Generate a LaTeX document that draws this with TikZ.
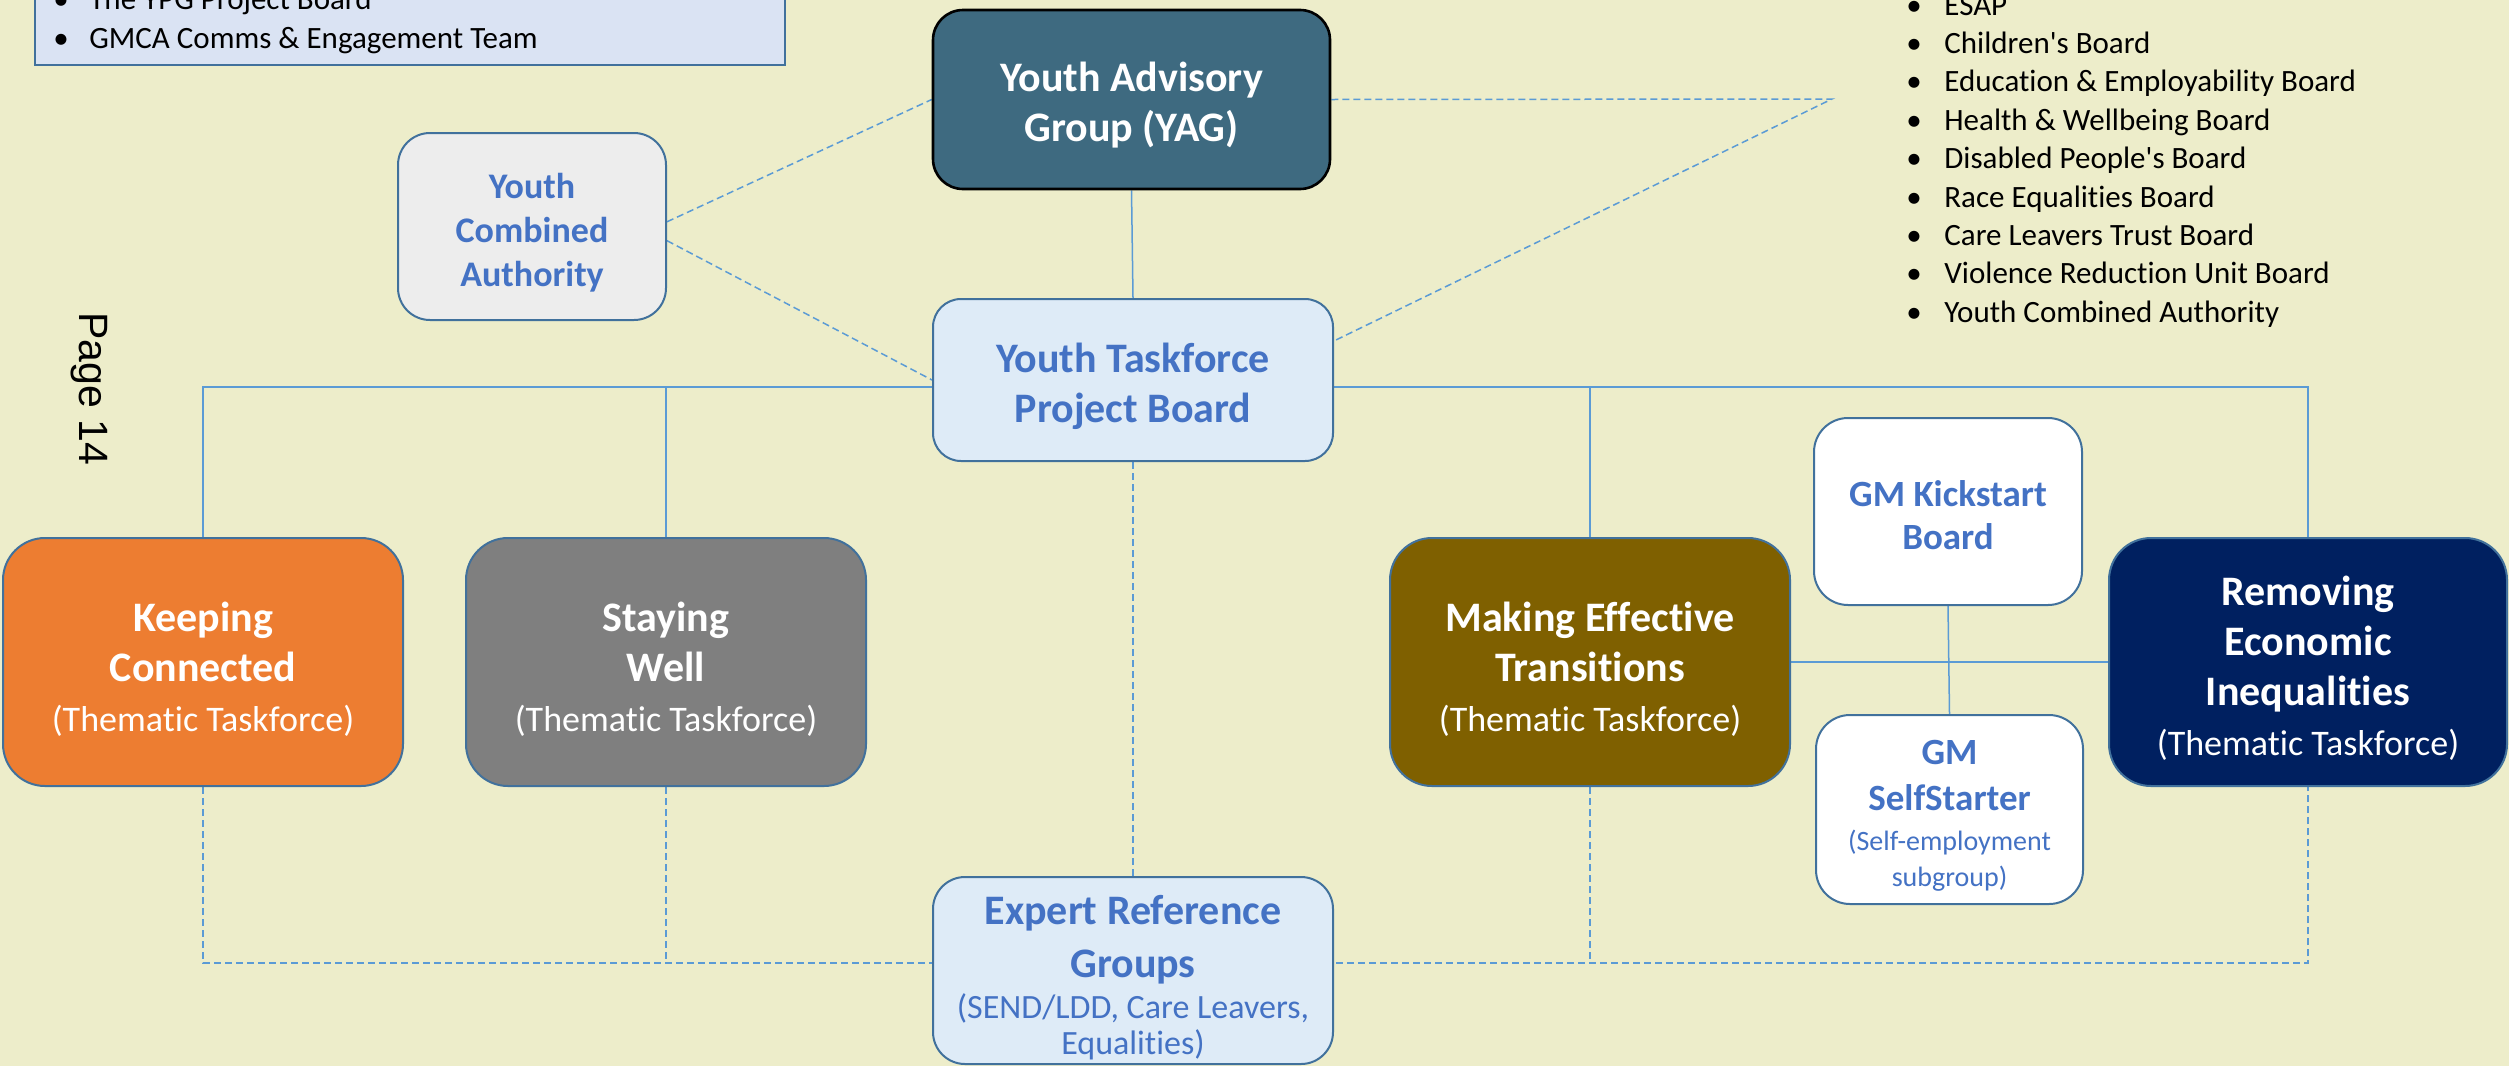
\documentclass[tikz,border=0pt]{standalone}
\usepackage{fontspec}
\setmainfont{Carlito}[Ligatures={TeXOff,NoCommon}]
\newfontfamily\pagefont{Liberation Sans}
\usetikzlibrary{backgrounds}
\definecolor{bgc}{RGB}{237,237,202}
\definecolor{bord}{RGB}{65,113,156}
\definecolor{connc}{RGB}{91,155,213}
\definecolor{bluetxt}{RGB}{68,114,196}
\definecolor{yagc}{RGB}{62,106,128}
\definecolor{lightblue}{RGB}{222,235,247}
\definecolor{ycafill}{RGB}{237,237,237}
\definecolor{orangec}{RGB}{237,125,49}
\definecolor{grayc}{RGB}{127,127,127}
\definecolor{olivec}{RGB}{127,96,0}
\definecolor{navyc}{RGB}{0,32,96}
\definecolor{tlfill}{RGB}{218,227,243}
\newcommand\tstrut[1]{\rule{0pt}{#1}}
\begin{document}
\begin{tikzpicture}[x=0.5pt,y=-0.5pt,
  box/.style={draw=bord, line width=1pt, inner sep=0pt, align=center},
  theme/.style={box, text=white, minimum width=200pt, minimum height=124pt, rounded corners=21pt, font=\fontsize{21}{25}\selectfont},
  conn/.style={draw=connc, line width=0.75pt},
  dconn/.style={conn, dash pattern=on 3.5pt off 2pt},
  item/.style={anchor=base west, inner sep=0pt, font=\fontsize{15.5}{19}\selectfont}]
\useasboundingbox (0,0) rectangle (2509,1066);

% top-left list box
\begin{scope}
\clip (0,0) rectangle (2509,1066);
\node[draw=bord, fill=tlfill, line width=1pt, anchor=south west, minimum width=375pt, minimum height=80pt, inner sep=0pt] (tl) at (34,66) {};
\end{scope}
\node[item] (tl1) at (53,9) {\makebox[18pt][l]{•}The YPG Project Board};
\node[item] (tl2) at (53,48) {\makebox[18pt][l]{•}GMCA Comms \& Engagement Team};

% right list
\foreach \t [count=\i] in {ESAP, Children's Board, Education \& Employability Board, Health \& Wellbeing Board, Disabled People's Board, Race Equalities Board, Care Leavers Trust Board, Violence Reduction Unit Board, Youth Combined Authority}
  \node[item] (r\i) at (1906,{15+38.4*(\i-1)}) {\makebox[19pt][l]{•}\t};

% page number
\node[font=\pagefont\fontsize{20.5}{24}\selectfont, rotate=-90, anchor=base west, inner sep=0pt] (pg) at (79,312) {Page 14};

% main boxes
\node[box, draw=black, line width=1.3pt, fill=yagc, text=white, rounded corners=15pt, minimum width=198.5pt, minimum height=89.5pt, font=\fontsize{21}{25}\selectfont\bfseries] (yag) at (1131.5,99.5) {\tstrut{20.5pt}Youth Advisory\\Group (YAG)};
\node[box, fill=lightblue, text=bluetxt, rounded corners=14pt, minimum width=200pt, minimum height=81pt, font=\fontsize{21}{25}\selectfont\bfseries] (ytpb) at (1133,380) {\tstrut{21pt}Youth Taskforce\\Project Board};
\node[box, fill=ycafill, text=bluetxt, rounded corners=16pt, minimum width=134pt, minimum height=93.5pt, font=\fontsize{18}{22}\selectfont\bfseries] (yca) at (532,226.5) {\tstrut{18.5pt}Youth\\Combined\\Authority};

\node[theme, fill=orangec] (keep) at (203,662) {\tstrut{21.5pt}\textbf{Keeping}\\\textbf{Connected}\\{\fontsize{18}{25}\selectfont(Thematic Taskforce)}};
\node[theme, fill=grayc] (stay) at (666,662) {\tstrut{21.5pt}\textbf{Staying}\\\textbf{Well}\\{\fontsize{18}{25}\selectfont(Thematic Taskforce)}};
\node[theme, fill=olivec] (make) at (1590,662) {\tstrut{21.5pt}\textbf{Making Effective}\\\textbf{Transitions}\\{\fontsize{18}{25}\selectfont(Thematic Taskforce)}};
\node[theme, fill=navyc, minimum width=199pt] (remov) at (2308,662) {\tstrut{21pt}\textbf{Removing}\\\textbf{Economic}\\\textbf{Inequalities}\\{\fontsize{18}{25}\selectfont(Thematic Taskforce)}};

\node[box, fill=white, text=bluetxt, rounded corners=17pt, minimum width=134pt, minimum height=93.5pt, font=\fontsize{18.5}{21.5}\selectfont\bfseries] (kick) at (1948,511.5) {\tstrut{17pt}GM Kickstart\\Board};
\node[box, fill=white, text=bluetxt, rounded corners=17pt, minimum width=133.5pt, minimum height=94.5pt, font=\fontsize{14}{18}\selectfont] (self) at (1949.5,809.5) {\tstrut{18.5pt}{\fontsize{18.5}{18}\selectfont\bfseries GM}\\[5pt]{\fontsize{18.5}{18}\selectfont\bfseries SelfStarter}\\[2pt](Self-employment\\subgroup)};
\node[box, fill=lightblue, text=bluetxt, rounded corners=16pt, minimum width=200pt, minimum height=93.5pt, font=\fontsize{17}{18}\selectfont] (erg) at (1133,970.5) {\tstrut{22pt}{\fontsize{21}{18}\selectfont\bfseries Expert Reference}\\[8.5pt]{\fontsize{21}{18}\selectfont\bfseries Groups}\\[2.5pt](SEND/LDD, Care Leavers,\\Equalities)};

% connectors and background
\begin{scope}[on background layer]
\fill[bgc] (0,0) rectangle (2509,1066);
\coordinate (bus) at (1133,387);
\coordinate (dbus) at (1133,963);
\coordinate (yr) at (1832,99);
\draw[conn] (keep.north) |- (bus) -| (remov.north);
\draw[conn] (stay.north) -- (stay.north |- bus);
\draw[conn] (make.north) -- (make.north |- bus);
\draw[conn] (yag.south) -- (ytpb.north);
\draw[conn] (make.east) -- (remov.west);
\draw[conn] (kick.south) -- (self.north);
\draw[dconn] (keep.south) |- (dbus) -| (remov.south);
\draw[dconn] (stay.south) -- (stay.south |- dbus);
\draw[dconn] (make.south) -- (make.south |- dbus);
\draw[dconn] (ytpb.south) -- (erg.north);
\draw[dconn] (yca.2) -- (yag.west);
\draw[dconn] (yca.-6) -- (ytpb.west);
\draw[dconn] (yag.east) -- (yr) -- (ytpb.11);
\end{scope}
\end{tikzpicture}
\end{document}
